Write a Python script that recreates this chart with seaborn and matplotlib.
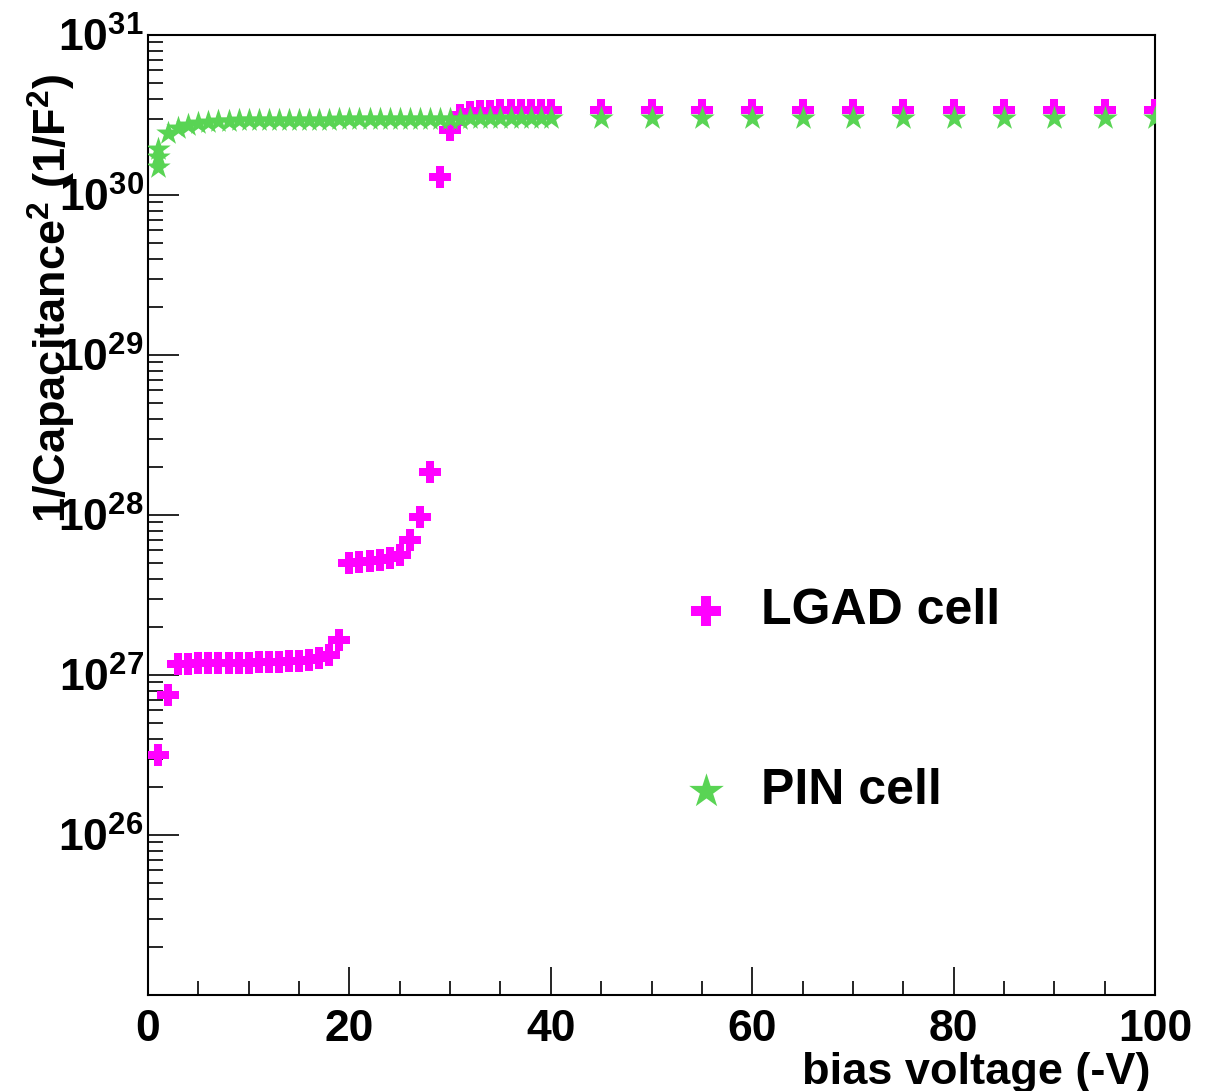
import numpy as np
import pandas as pd
import matplotlib
matplotlib.use("Agg")
import matplotlib.pyplot as plt
import matplotlib.ticker as mticker
import seaborn as sns

# ---------------- data ----------------
lgad_v = list(range(1, 41)) + list(range(45, 101, 5))
lgad_c = [3.16e26, 7.5e26, 1.17e27, 1.17e27, 1.18e27, 1.18e27, 1.18e27, 1.19e27,
          1.19e27, 1.19e27, 1.20e27, 1.20e27, 1.21e27, 1.22e27, 1.23e27, 1.24e27,
          1.27e27, 1.33e27, 1.66e27, 5.0e27, 5.05e27, 5.15e27, 5.25e27, 5.4e27,
          5.65e27, 7.0e27, 9.7e27, 1.85e28, 1.3e30, 2.55e30, 3.15e30, 3.3e30,
          3.35e30, 3.37e30, 3.38e30, 3.38e30, 3.39e30, 3.39e30, 3.4e30, 3.4e30,
          3.4e30, 3.4e30, 3.4e30, 3.4e30, 3.4e30, 3.4e30, 3.4e30, 3.4e30,
          3.4e30, 3.4e30, 3.4e30, 3.4e30]

pin_v = [1, 1, 1] + list(range(2, 41)) + list(range(45, 101, 5))
pin_c = [1.5e30, 1.73e30, 1.95e30, 2.43e30, 2.61e30, 2.74e30, 2.8e30, 2.87e30,
         2.9e30, 2.92e30, 2.93e30, 2.93e30, 2.94e30, 2.94e30, 2.95e30, 2.95e30,
         2.95e30, 2.96e30, 2.96e30, 2.96e30, 2.97e30, 2.97e30, 2.97e30, 2.98e30,
         2.98e30, 2.98e30, 2.99e30, 2.99e30, 2.99e30, 3.0e30, 3.0e30, 3.0e30,
         3.0e30, 3.01e30, 3.01e30, 3.01e30, 3.01e30, 3.02e30, 3.02e30, 3.02e30,
         3.02e30, 3.02e30,
         3.03e30, 3.03e30, 3.03e30, 3.03e30, 3.03e30, 3.03e30, 3.03e30, 3.03e30,
         3.03e30, 3.03e30, 3.03e30, 3.03e30]

series_names = ["LGAD cell", "PIN cell"]
x_major = [0, 20, 40, 60, 80, 100]
y_decades = [25, 26, 27, 28, 29, 30, 31]

# ---------------- style ----------------
sns.set_style("white")
plt.rcParams["font.family"] = ["Liberation Sans", "DejaVu Sans"]
plt.rcParams["font.weight"] = "bold"
plt.rcParams["text.color"] = "black"
plt.rcParams["xtick.color"] = "black"
plt.rcParams["ytick.color"] = "black"
plt.rcParams["xtick.labelcolor"] = "black"
plt.rcParams["ytick.labelcolor"] = "black"
plt.rcParams["mathtext.fontset"] = "custom"
plt.rcParams["mathtext.rm"] = "Liberation Sans:bold"
plt.rcParams["mathtext.it"] = "Liberation Sans:bold"
plt.rcParams["mathtext.bf"] = "Liberation Sans:bold"
plt.rcParams["mathtext.default"] = "rm"

W, H = 1219, 1091
fig = plt.figure(figsize=(W / 100, H / 100), dpi=100)
L, R, T, B = 148, 1155, 35, 995
ax = fig.add_axes([L / W, 1 - B / H, (R - L) / W, (B - T) / H])

df_l = pd.DataFrame({"v": lgad_v, "c": lgad_c, "s": series_names[0]})
df_p = pd.DataFrame({"v": pin_v, "c": pin_c, "s": series_names[1]})

magenta = "#ff00ff"
green = "#59d454"
sns.scatterplot(data=df_l, x="v", y="c", ax=ax, marker="P", s=240, color=magenta,
                linewidth=0, label=series_names[0], zorder=3)
sns.scatterplot(data=df_p, x="v", y="c", ax=ax, marker="*", s=340, color=green,
                linewidth=0, label=series_names[1], zorder=4)

ax.set_yscale("log")
ax.set_xlim(0, 100)
ax.set_ylim(1e25, 1e31)
ax.set_xlabel("")
ax.set_ylabel("")

# ticks
ax.xaxis.set_major_locator(mticker.FixedLocator(x_major))
ax.xaxis.set_minor_locator(mticker.MultipleLocator(5))
ax.yaxis.set_major_locator(mticker.FixedLocator([10.0 ** d for d in y_decades]))
ax.yaxis.set_minor_locator(mticker.LogLocator(base=10, subs=np.arange(2, 10), numticks=20))
ax.yaxis.set_minor_formatter(mticker.NullFormatter())


def yfmt(val, pos):
    e = int(round(np.log10(val)))
    if e <= 25:
        return ""
    return r"$10^{%d}$" % e


ax.yaxis.set_major_formatter(mticker.FuncFormatter(yfmt))
ax.xaxis.set_major_formatter(mticker.FuncFormatter(lambda v, p: "%d" % v))

ax.tick_params(axis="both", which="both", direction="in", top=False, right=False,
               bottom=True, left=True, color="black", labelcolor="black", width=1.2)
ax.tick_params(axis="x", which="major", length=20, labelsize=32, pad=10)
ax.tick_params(axis="x", which="minor", length=10)
ax.tick_params(axis="y", which="major", length=22, labelsize=32, pad=3)
ax.tick_params(axis="y", which="minor", length=11)
for lab in ax.get_xticklabels() + ax.get_yticklabels():
    lab.set_fontweight("bold")

for sp in ax.spines.values():
    sp.set_visible(True)
    sp.set_color("black")
    sp.set_linewidth(1.5)

# axis titles (ROOT-style placement)
fig.text(52 / W, 1 - 74 / H, r"1/Capacitance$^{2}$ (1/F$^{2}$)", rotation=90,
         ha="center", va="top", fontsize=32.5, fontweight="bold", color="black")
fig.text(1150 / W, 1 - 1084 / H, "bias voltage (-V)", ha="right", va="baseline",
         fontsize=32.5, fontweight="bold", color="black")

# legend
leg = ax.legend(loc="upper left", bbox_to_anchor=(681 / W, 1 - 588 / H),
                bbox_transform=fig.transFigure, frameon=False,
                markerscale=1.42, handlelength=1.0, handletextpad=0.6,
                labelspacing=2.69, borderpad=0, borderaxespad=0,
                prop={"weight": "bold", "size": 36})
for t in leg.get_texts():
    t.set_color("black")

fig.savefig("out.png", dpi=100)
